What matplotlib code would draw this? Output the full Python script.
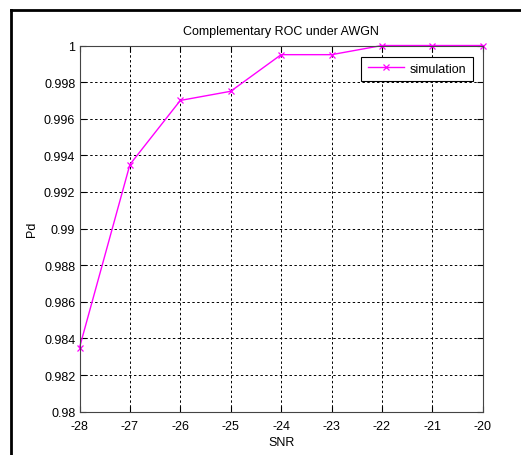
import matplotlib
matplotlib.use('Agg')
import matplotlib.pyplot as plt
from matplotlib.lines import Line2D

plt.rcParams['font.family'] = ['Liberation Sans', 'DejaVu Sans']
plt.rcParams['axes.unicode_minus'] = False

# 数据
snr = [-28, -27, -26, -25, -24, -23, -22, -21, -20]
pd_sim = [0.9835, 0.9935, 0.9970, 0.9975, 0.9995, 0.9995, 1.0, 1.0, 1.0]
xticks = [-28, -27, -26, -25, -24, -23, -22, -21, -20]
yticks = [0.98, 0.982, 0.984, 0.986, 0.988, 0.99, 0.992, 0.994, 0.996, 0.998, 1]
ytick_labels = ['0.98', '0.982', '0.984', '0.986', '0.988', '0.99',
                '0.992', '0.994', '0.996', '0.998', '1']

fig = plt.figure(figsize=(5.21, 4.56), dpi=100)
ax = fig.add_axes([0.1526, 0.095, 0.774, 0.803])

ax.plot(snr, pd_sim, color='#ff00ff', lw=1.0, marker='x', ms=4,
        mew=0.9, label='simulation', clip_on=False)

ax.set_xlim(-28, -20)
ax.set_ylim(0.98, 1.0)
ax.set_xticks(xticks)
ax.set_yticks(yticks)
ax.set_yticklabels(ytick_labels)
ax.grid(True, color='black', ls=(0, (2.5, 2.5)), lw=0.7)
ax.tick_params(direction='in', top=True, right=True, labelsize=9,
               length=4, width=0.8)
ax.tick_params(axis='x', pad=6)
ax.tick_params(axis='y', pad=3)
for s in ax.spines.values():
    s.set_linewidth(0.8)
    s.set_color('#444444')

ax.set_title('Complementary ROC under AWGN', fontsize=9, pad=8)
ax.set_xlabel('SNR', fontsize=9, labelpad=3)
ax.set_ylabel('Pd', fontsize=9, labelpad=4)

leg = ax.legend(loc='upper right', fontsize=9, fancybox=False,
                framealpha=1, borderpad=0.5, handlelength=2.9,
                handletextpad=0.5, borderaxespad=0.3,
                bbox_to_anchor=(0.985, 0.98))
leg.get_frame().set_edgecolor('black')
leg.get_frame().set_linewidth(0.8)

# 外框 (左边和上边)
fig.add_artist(Line2D([0.0211, 1.0], [0.976, 0.976], color='black', lw=2,
                      transform=fig.transFigure))
fig.add_artist(Line2D([0.0211, 0.0211], [0.0, 0.976], color='black', lw=2,
                      transform=fig.transFigure))

fig.savefig('out.png', dpi=100)
